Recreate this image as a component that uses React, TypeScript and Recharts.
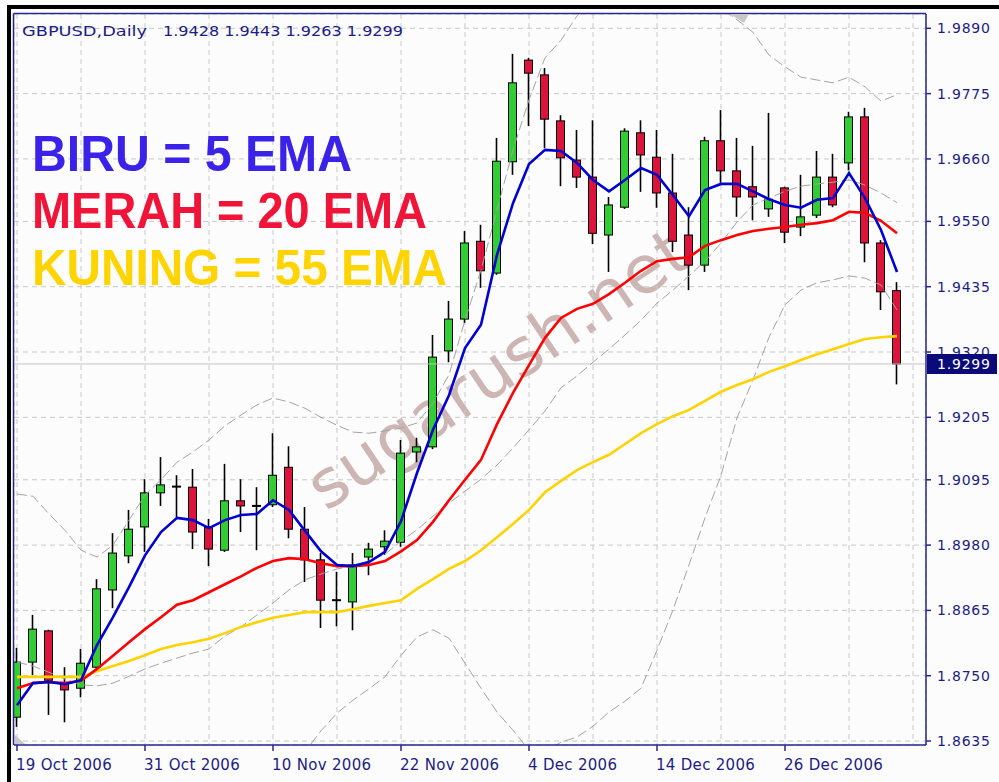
import React from "react";
import { ComposedChart, Bar, Line, XAxis, YAxis, CartesianGrid, ReferenceLine } from "recharts";

// GBPUSD daily, 19 Oct 2006 .. 4 Jan 2007
const DATES = [
  "19 Oct 2006", "20 Oct 2006", "23 Oct 2006", "24 Oct 2006", "25 Oct 2006", "26 Oct 2006", "27 Oct 2006", "30 Oct 2006",
  "31 Oct 2006", "1 Nov 2006", "2 Nov 2006", "3 Nov 2006", "6 Nov 2006", "7 Nov 2006", "8 Nov 2006", "9 Nov 2006",
  "10 Nov 2006", "13 Nov 2006", "14 Nov 2006", "15 Nov 2006", "16 Nov 2006", "17 Nov 2006", "20 Nov 2006", "21 Nov 2006",
  "22 Nov 2006", "23 Nov 2006", "24 Nov 2006", "27 Nov 2006", "28 Nov 2006", "29 Nov 2006", "30 Nov 2006", "1 Dec 2006",
  "4 Dec 2006", "5 Dec 2006", "6 Dec 2006", "7 Dec 2006", "8 Dec 2006", "11 Dec 2006", "12 Dec 2006", "13 Dec 2006",
  "14 Dec 2006", "15 Dec 2006", "18 Dec 2006", "19 Dec 2006", "20 Dec 2006", "21 Dec 2006", "22 Dec 2006", "25 Dec 2006",
  "26 Dec 2006", "27 Dec 2006", "28 Dec 2006", "29 Dec 2006", "1 Jan 2007", "2 Jan 2007", "3 Jan 2007", "4 Jan 2007",
];

const OPEN = [
  1.8677, 1.8774, 1.8829, 1.8737, 1.8728, 1.8765, 1.8901, 1.8961, 1.9012, 1.9072, 1.9083, 1.9082, 1.9012, 1.8971,
  1.9058, 1.9049, 1.9051, 1.9117, 1.9008, 1.8954, 1.8883, 1.888, 1.8959, 1.8977, 1.8985, 1.9144, 1.9153, 1.9322,
  1.9378, 1.9515, 1.9459, 1.9655, 1.9834, 1.9808, 1.9727, 1.9658, 1.9628, 1.9526, 1.9575, 1.9706, 1.9663, 1.96,
  1.9526, 1.9473, 1.9692, 1.9639, 1.9611, 1.9572, 1.9609, 1.954, 1.9561, 1.9628, 1.9653, 1.9734, 1.9512, 1.9428,
];
const HIGH = [
  1.8799, 1.8857, 1.8831, 1.8765, 1.8797, 1.892, 1.9001, 1.9042, 1.9096, 1.9135, 1.9103, 1.9114, 1.9026, 1.9123,
  1.9096, 1.9082, 1.9177, 1.9154, 1.9047, 1.8966, 1.8933, 1.8966, 1.8984, 1.9006, 1.9165, 1.9169, 1.935, 1.941,
  1.9533, 1.9544, 1.9697, 1.9845, 1.9838, 1.982, 1.9737, 1.9711, 1.9728, 1.9593, 1.9714, 1.9728, 1.9711, 1.9669,
  1.9575, 1.9699, 1.9746, 1.9697, 1.9683, 1.9741, 1.9611, 1.9632, 1.9674, 1.9669, 1.9743, 1.975, 1.9517, 1.9443,
];
const LOW = [
  1.866, 1.8751, 1.8681, 1.8668, 1.8712, 1.8762, 1.8869, 1.8948, 1.8968, 1.9049, 1.9029, 1.8973, 1.8943, 1.8968,
  1.9003, 1.8971, 1.9047, 1.8992, 1.8915, 1.8834, 1.8837, 1.883, 1.8927, 1.8963, 1.8977, 1.9126, 1.9149, 1.9302,
  1.9371, 1.9433, 1.9456, 1.9632, 1.9718, 1.9679, 1.9612, 1.9609, 1.951, 1.9461, 1.9572, 1.9602, 1.9574, 1.9496,
  1.9429, 1.9461, 1.9618, 1.9558, 1.9552, 1.9558, 1.9512, 1.9524, 1.9556, 1.9575, 1.964, 1.9478, 1.9394, 1.9263,
];
const CLOSE = [
  1.8774, 1.8832, 1.8742, 1.8725, 1.8772, 1.8903, 1.8966, 1.9008, 1.9072, 1.9086, 1.9082, 1.9003, 1.8973, 1.9058,
  1.9049, 1.9047, 1.9103, 1.9008, 1.8954, 1.8883, 1.8882, 1.8945, 1.8973, 1.8987, 1.9142, 1.9153, 1.9311, 1.9378,
  1.9512, 1.9463, 1.9656, 1.9794, 1.9811, 1.973, 1.9662, 1.9628, 1.9529, 1.9579, 1.9709, 1.9667, 1.96, 1.9515,
  1.9473, 1.9692, 1.9639, 1.9593, 1.9593, 1.9589, 1.9531, 1.9558, 1.9628, 1.9579, 1.9734, 1.9512, 1.9426, 1.9299,
];

const EMA5 = [
  1.8698, 1.8737, 1.8739, 1.8735, 1.8742, 1.8804, 1.8853, 1.8906, 1.8962, 1.9003, 1.9028, 1.9024, 1.901, 1.9024,
  1.9033, 1.9035, 1.9059, 1.9042, 1.9005, 1.8969, 1.8945, 1.8943, 1.895, 1.8968, 1.9022, 1.9107, 1.9183, 1.9244,
  1.9327, 1.9368, 1.9491, 1.9582, 1.9651, 1.9676, 1.9674, 1.9653, 1.9623, 1.9603, 1.9623, 1.9644, 1.9632, 1.9596,
  1.9559, 1.9605, 1.9616, 1.9616, 1.9603, 1.9589, 1.9579, 1.9574, 1.9588, 1.9591, 1.9635, 1.9591, 1.9535, 1.9461,
];
const EMA20 = [
  1.8728, 1.8737, 1.8739, 1.8737, 1.8741, 1.8762, 1.8785, 1.8809, 1.8832, 1.8853, 1.8875, 1.8883, 1.8897, 1.8911,
  1.8925, 1.894, 1.8952, 1.8957, 1.8955, 1.8948, 1.8943, 1.8943, 1.8945, 1.8952, 1.8969, 1.8989, 1.9021, 1.9059,
  1.9095, 1.913, 1.9193, 1.9248, 1.9297, 1.9345, 1.938, 1.9396, 1.9405, 1.9422, 1.9442, 1.9463, 1.948, 1.9484,
  1.9487, 1.9507, 1.9517, 1.9526, 1.9533, 1.9537, 1.954, 1.9544, 1.9547, 1.9552, 1.9567, 1.9565, 1.9551, 1.9529,
];
const EMA55 = [
  1.8748, 1.8748, 1.8748, 1.8748, 1.8748, 1.8758, 1.8767, 1.8776, 1.8786, 1.8797, 1.8804, 1.8809, 1.8815, 1.8825,
  1.8836, 1.8844, 1.8852, 1.8857, 1.8862, 1.8862, 1.8862, 1.8867, 1.8873, 1.8878, 1.8883, 1.8903, 1.892, 1.8938,
  1.8952, 1.8971, 1.8994, 1.9017, 1.9042, 1.9073, 1.9093, 1.9112, 1.9126, 1.9139, 1.9158, 1.9177, 1.9193, 1.9207,
  1.9218, 1.9234, 1.925, 1.9262, 1.9272, 1.9285, 1.9295, 1.9306, 1.9316, 1.9325, 1.9334, 1.9343, 1.9346, 1.9348,
];

// Bollinger bands (grey dashed)
const BB_UPPER = [
  1.907, 1.9066, 1.9035, 1.9006, 1.8971, 1.8959, 1.898, 1.9024, 1.9068, 1.9095, 1.9126, 1.9144, 1.9165, 1.919,
  1.9209, 1.9227, 1.9239, 1.9232, 1.9221, 1.9205, 1.9191, 1.9179, 1.9177, 1.9181, 1.9186, 1.9195, 1.923, 1.928,
  1.9376, 1.9464, 1.957, 1.9676, 1.9764, 1.9838, 1.9869, 1.9912, 1.994, 1.9957, 1.9966, 1.9972, 1.9966, 1.9961,
  1.9954, 1.9943, 1.9926, 1.9905, 1.9883, 1.9843, 1.9822, 1.9804, 1.9799, 1.9794, 1.9804, 1.9787, 1.9762, 1.9773,
];
const BB_MIDDLE = [
  1.8774, 1.8767, 1.8756, 1.8744, 1.8734, 1.8732, 1.8737, 1.8749, 1.8762, 1.8772, 1.8781, 1.879, 1.8797, 1.882,
  1.8836, 1.8857, 1.8878, 1.8901, 1.8919, 1.8929, 1.8938, 1.8943, 1.8952, 1.8964, 1.8987, 1.9007, 1.9031, 1.9054,
  1.9075, 1.9096, 1.9121, 1.9151, 1.9183, 1.9216, 1.9257, 1.9278, 1.9302, 1.9325, 1.935, 1.9376, 1.9406, 1.9429,
  1.9454, 1.948, 1.9512, 1.9549, 1.9579, 1.9591, 1.9603, 1.9612, 1.9616, 1.9619, 1.9623, 1.9614, 1.96, 1.9583,
];
const BB_LOWER = [
  1.8478, 1.8468, 1.8478, 1.8482, 1.8496, 1.8505, 1.8494, 1.8475, 1.8455, 1.845, 1.8436, 1.8436, 1.8429, 1.845,
  1.8462, 1.8487, 1.8517, 1.857, 1.8616, 1.8653, 1.8684, 1.8707, 1.8727, 1.8748, 1.8786, 1.8818, 1.8831, 1.8816,
  1.8772, 1.8728, 1.8686, 1.8654, 1.8619, 1.8616, 1.8633, 1.8642, 1.8661, 1.8686, 1.8705, 1.8728, 1.8795, 1.8866,
  1.8945, 1.9028, 1.9103, 1.9204, 1.9271, 1.9346, 1.9403, 1.9429, 1.9442, 1.9447, 1.9454, 1.945, 1.9438, 1.9394,
];

const PRICE_TICKS = [1.8635, 1.875, 1.8865, 1.898, 1.9095, 1.9205, 1.932, 1.9435, 1.955, 1.966, 1.9775, 1.989];
const GRID_STEPS = [0, 4, 8, 12, 16, 20, 24, 28, 32, 36, 40, 44, 48, 52, 56];
const LAST = { open: 1.9428, high: 1.9443, low: 1.9263, close: 1.9299 };

const NAVY = "#262690";
const TEXT = "#1c1c84";
const FONT = "DejaVu Sans";

const data = DATES.map((date, i) => ({
  i,
  date,
  open: OPEN[i],
  high: HIGH[i],
  low: LOW[i],
  close: CLOSE[i],
  ema5: EMA5[i],
  ema20: EMA20[i],
  ema55: EMA55[i],
  bbUp: BB_UPPER[i],
  bbMid: BB_MIDDLE[i],
  bbLow: BB_LOWER[i],
}));

function Candle(props: any) {
  const { x, y, width, height, payload } = props;
  if (x == null || payload == null) return <g />;
  const top = Math.min(y, y + height);
  const h = Math.abs(height);
  const { open, high, low, close } = payload;
  const k = h / (high - low);
  const py = (v: number) => top + (high - v) * k;
  const cx = x + width / 2;
  const bTop = py(Math.max(open, close));
  const bBot = py(Math.min(open, close));
  const flat = bBot - bTop < 1.5;
  return (
    <g>
      <line x1={cx} x2={cx} y1={top} y2={top + h} stroke="#000" strokeWidth={1.6} />
      {flat ? (
        <line x1={cx - 4.5} x2={cx + 4.5} y1={bTop} y2={bTop} stroke="#000" strokeWidth={2} />
      ) : (
        <rect
          x={cx - 4}
          y={bTop}
          width={8}
          height={bBot - bTop}
          fill={close > open ? "#32cd32" : "#dc143c"}
          stroke="#000"
          strokeWidth={1}
        />
      )}
    </g>
  );
}

function XTick(props: any) {
  const { x, payload } = props;
  const i = payload.value;
  if (i % 8 !== 0 || i >= DATES.length) return <g />;
  return (
    <g>
      <line x1={x} x2={x} y1={745} y2={751} stroke={NAVY} strokeWidth={1.5} />
      <text x={x - 1} y={770} fontSize={15} fontFamily={FONT} fill={TEXT} letterSpacing={0.3}>
        {DATES[i]}
      </text>
    </g>
  );
}

function YTick(props: any) {
  const { y, payload } = props;
  return (
    <g>
      <line x1={926} x2={931} y1={y} y2={y} stroke={NAVY} strokeWidth={1.5} />
      <text x={937} y={y + 5} fontSize={14} fontFamily={FONT} fill={TEXT} letterSpacing={0.8}>
        {payload.value.toFixed(4)}
      </text>
    </g>
  );
}

export default function App() {
  return (
    <div style={{ position: "absolute", left: 0, top: 0, width: 999, height: 782, background: "#fcfcfc", overflow: "hidden" }}>
      <svg width={999} height={782} style={{ position: "absolute", left: 0, top: 0 }}>
        <text
          transform="translate(326,512) rotate(-34)"
          fontSize={66}
          fontFamily={FONT}
          fill="#cdb5b3"
          textLength={445}
          lengthAdjust="spacingAndGlyphs"
        >
          sugarush.net
        </text>
      </svg>

      <div style={{ position: "absolute", left: 0, top: 0 }}>
        <ComposedChart width={999} height={782} data={data} margin={{ top: 14, right: 0, bottom: 0, left: 14 }}>
          <CartesianGrid stroke="#c8c8c8" strokeDasharray="5 4" />
          <XAxis
            dataKey="i"
            type="number"
            domain={[-0.1875, 56.8125]}
            allowDataOverflow
            ticks={GRID_STEPS}
            interval={0}
            height={37}
            tick={<XTick />}
            tickLine={false}
            axisLine={{ stroke: NAVY, strokeWidth: 1.5 }}
          />
          <YAxis
            orientation="right"
            type="number"
            domain={[1.8628, 1.99152]}
            allowDataOverflow
            ticks={PRICE_TICKS}
            interval={0}
            width={73}
            tick={<YTick />}
            tickLine={false}
            axisLine={{ stroke: NAVY, strokeWidth: 1.5 }}
          />
          <ReferenceLine y={LAST.close} stroke="#c4c4c4" strokeWidth={1} />
          <Bar dataKey={(d: any) => [d.low, d.high]} barSize={9} shape={<Candle />} isAnimationActive={false} />
          <Line type="linear" dataKey="bbUp" stroke="#a4a4a4" strokeWidth={1} strokeDasharray="10 4" dot={false} isAnimationActive={false} />
          <Line type="linear" dataKey="bbMid" stroke="#a4a4a4" strokeWidth={1} strokeDasharray="10 4" dot={false} isAnimationActive={false} />
          <Line type="linear" dataKey="bbLow" stroke="#a4a4a4" strokeWidth={1} strokeDasharray="10 4" dot={false} isAnimationActive={false} />
          <Line type="linear" dataKey="ema55" stroke="#ffd200" strokeWidth={2.6} dot={false} isAnimationActive={false} />
          <Line type="linear" dataKey="ema20" stroke="#ff0000" strokeWidth={2.6} dot={false} isAnimationActive={false} />
          <Line type="linear" dataKey="ema5" stroke="#0000d0" strokeWidth={2.6} dot={false} isAnimationActive={false} />
        </ComposedChart>
      </div>

      <svg width={999} height={782} style={{ position: "absolute", left: 0, top: 0, pointerEvents: "none" }}>
        {/* outer frame */}
        <rect x={7} y={5} width={992} height={4} fill="#000" />
        <rect x={7} y={5} width={4} height={777} fill="#000" />
        <line x1={13.5} y1={13.5} x2={926} y2={13.5} stroke={NAVY} strokeWidth={1.5} />
        <line x1={13.5} y1={13.5} x2={13.5} y2={745} stroke={NAVY} strokeWidth={1.5} />
        <polygon points="730,14 749,14 744,23" fill="#c8c8c8" />
        <polygon points="15,735 15,744 25,744" fill="#c8c8c8" />

        {/* header */}
        <text x={22} y={36} fontSize={14} fontFamily={FONT} fill={TEXT} textLength={125} lengthAdjust="spacingAndGlyphs">
          GBPUSD,Daily
        </text>
        <text x={163} y={36} fontSize={14} fontFamily={FONT} fill={TEXT} textLength={240} lengthAdjust="spacingAndGlyphs">
          {`${LAST.open.toFixed(4)} ${LAST.high.toFixed(4)} ${LAST.low.toFixed(4)} ${LAST.close.toFixed(4)}`}
        </text>

        {/* legend notes */}
        <text x={32} y={171} fontSize={50} fontWeight="bold" fontFamily="Liberation Sans" fill="#3b22e8" textLength={320} lengthAdjust="spacingAndGlyphs">
          BIRU = 5 EMA
        </text>
        <text x={32} y={228} fontSize={50} fontWeight="bold" fontFamily="Liberation Sans" fill="#f01438" textLength={395} lengthAdjust="spacingAndGlyphs">
          MERAH = 20 EMA
        </text>
        <text x={32} y={285} fontSize={50} fontWeight="bold" fontFamily="Liberation Sans" fill="#ffd400" textLength={415} lengthAdjust="spacingAndGlyphs">
          KUNING = 55 EMA
        </text>

        {/* last price box */}
        <rect x={927} y={354} width={70} height={20} fill="#0a0a78" />
        <text x={937} y={369} fontSize={14} fontFamily={FONT} fill="#ffffff" letterSpacing={0.8}>
          {LAST.close.toFixed(4)}
        </text>
      </svg>
    </div>
  );
}
